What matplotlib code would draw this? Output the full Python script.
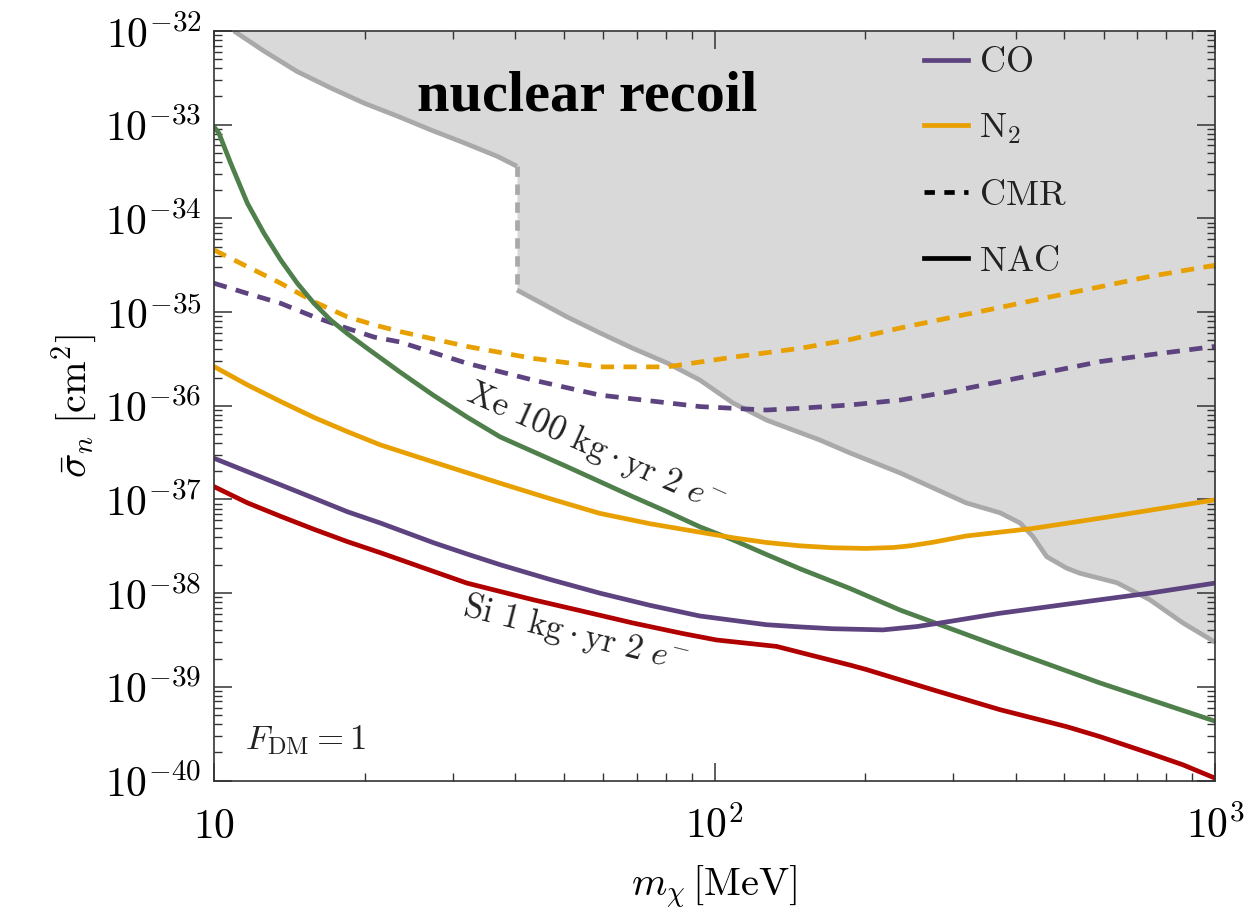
import matplotlib
matplotlib.use('Agg')
import matplotlib.pyplot as plt
from matplotlib.ticker import FixedLocator, FixedFormatter, LogLocator, NullFormatter
from matplotlib.lines import Line2D

plt.rcParams['mathtext.fontset'] = 'cm'
plt.rcParams['font.family'] = ['DejaVu Serif']

# ---------------- data (m_chi in MeV, sigma_n in cm^2) ----------------
m_xe = [10.0, 10.23, 10.8, 11.66, 12.59, 13.59, 14.67, 15.84, 17.11, 18.46, 20.24, 23.5, 27.4, 32.0, 37.3,
        43.4, 50.7, 59.0, 68.7, 80.4, 93.5, 108.9, 127.3, 148.2, 186.6, 234.8, 372, 589, 1000]
s_xe = [9.5e-34, 8.1e-34, 3.87e-34, 1.45e-34, 6.9e-35, 3.6e-35, 2.03e-35, 1.24e-35, 8.2e-36, 5.9e-36,
        4.1e-36, 2.3e-36, 1.3e-36, 7.6e-37, 4.65e-37, 3.24e-37, 2.24e-37, 1.55e-37, 1.07e-37, 7.4e-38,
        5.1e-38, 3.7e-38, 2.57e-38, 1.82e-38, 1.12e-38, 6.6e-39, 2.67e-39, 1.10e-39, 4.3e-40]

m_n2_nac = [10, 11.66, 13.59, 15.84, 18.46, 21.5, 27.5, 37.3, 46.9, 59, 74.4, 93.5, 108.9, 127, 148, 172,
            201, 228, 246, 274, 318, 432, 589, 1000]
s_n2_nac = [2.62e-36, 1.67e-36, 1.11e-36, 7.5e-37, 5.3e-37, 3.82e-37, 2.5e-37, 1.49e-37, 1.02e-37,
            7.1e-38, 5.5e-38, 4.47e-38, 3.9e-38, 3.47e-38, 3.2e-38, 3.05e-38, 3.0e-38, 3.07e-38, 3.2e-38,
            3.5e-38, 4.07e-38, 4.9e-38, 6.3e-38, 9.9e-38]

m_co_nac = [10, 11.66, 13.59, 15.84, 18.46, 21.5, 27.5, 32, 37.3, 46.9, 59, 74.4, 93.5, 127, 148, 172, 217,
            254, 294, 372, 468, 589, 741, 1000]
s_co_nac = [2.75e-37, 1.98e-37, 1.43e-37, 1.03e-37, 7.4e-38, 5.6e-38, 3.44e-38, 2.62e-38, 2.01e-38,
            1.40e-38, 1.0e-38, 7.4e-39, 5.7e-39, 4.6e-39, 4.36e-39, 4.17e-39, 4.05e-39, 4.4e-39, 4.97e-39,
            6.1e-39, 7.2e-39, 8.5e-39, 1.0e-38, 1.28e-38]

m_si = [10, 11.66, 13.59, 15.84, 18.46, 21.5, 27.5, 32, 43.4, 54.6, 68.7, 86.5, 101, 133, 160, 187, 201,
        273, 372, 505, 589, 741, 863, 1000]
s_si = [1.37e-37, 9.2e-38, 6.6e-38, 4.8e-38, 3.55e-38, 2.7e-38, 1.70e-38, 1.28e-38, 8.5e-39, 6.4e-39,
        4.8e-39, 3.7e-39, 3.16e-39, 2.7e-39, 2.1e-39, 1.70e-39, 1.53e-39, 9.3e-40, 5.7e-40, 3.76e-40,
        2.94e-40, 1.95e-40, 1.47e-40, 1.06e-40]

m_n2_cmr = [10, 11.66, 13.59, 15.84, 18.46, 20.9, 23.5, 32, 43.4, 59, 80.4, 108.9, 148, 187, 235, 295,
            372, 468, 589, 741, 1000]
s_n2_cmr = [4.6e-35, 3.05e-35, 2.03e-35, 1.29e-35, 8.9e-36, 7.3e-36, 6.2e-36, 4.3e-36, 3.2e-36, 2.6e-36,
            2.6e-36, 3.3e-36, 4.1e-36, 5.1e-36, 6.76e-36, 8.7e-36, 1.12e-35, 1.45e-35, 1.86e-35, 2.4e-35,
            3.16e-35]

m_co_cmr = [10, 11.66, 13.59, 15.84, 18.46, 20.9, 23.5, 32, 43.4, 59, 93.5, 127, 148, 187, 235, 295,
            372, 468, 589, 741, 1000]
s_co_cmr = [2.03e-35, 1.58e-35, 1.24e-35, 8.9e-36, 6.7e-36, 5.4e-36, 4.8e-36, 2.84e-36, 1.88e-36,
            1.30e-36, 9.8e-37, 9.0e-37, 9.4e-37, 1.02e-36, 1.15e-36, 1.41e-36, 1.81e-36, 2.31e-36,
            2.96e-36, 3.5e-36, 4.3e-36]

# nuclear recoil bound: upper branch, step at 40.3 MeV, lower branch
m_nr_hi = [10.96, 12.59, 14.65, 17.13, 19.94, 23.2, 27.1, 31.6, 36.8, 40.3]
s_nr_hi = [1.0e-32, 6.1e-33, 3.7e-33, 2.46e-33, 1.70e-33, 1.24e-33, 8.8e-34, 6.4e-34, 4.6e-34, 3.6e-34]
m_nr_lo = [40.3, 50.7, 59.0, 68.7, 80.4, 93.5, 108.9, 127.3, 162.5, 186.6, 234.8, 318, 372, 408, 433,
           461, 505, 537, 637, 741, 863, 1000]
s_nr_lo = [1.72e-35, 8.9e-36, 6.0e-36, 4.1e-36, 2.86e-36, 1.88e-36, 1.07e-36, 7.0e-37, 4.3e-37, 3.13e-37,
           1.92e-37, 9.2e-38, 7.2e-38, 5.6e-38, 4.0e-38, 2.45e-38, 1.85e-38, 1.63e-38, 1.29e-38, 8.5e-39,
           4.8e-39, 3.0e-39]

y_major = [1e-32, 1e-33, 1e-34, 1e-35, 1e-36, 1e-37, 1e-38, 1e-39, 1e-40]
y_labels = [r'$10^{-32}$', r'$10^{-33}$', r'$10^{-34}$', r'$10^{-35}$', r'$10^{-36}$',
            r'$10^{-37}$', r'$10^{-38}$', r'$10^{-39}$', r'$10^{-40}$']
x_major = [10, 100, 1000]
x_labels = [r'$10$', r'$10^{2}$', r'$10^{3}$']

# ---------------- style ----------------
C_PURPLE = '#5d437f'
C_ORANGE = '#e8a000'
C_GREEN = '#4f7f4b'
C_RED = '#b00000'
C_GRAY_LINE = '#a9a9a9'
C_GRAY_FILL = '#d9d9d9'
LW = 3.4
DASH = (2.8, 2.0)

fig = plt.figure(figsize=(12.46, 9.23), dpi=100)
ax = fig.add_axes([214 / 1246, 1 - 780.5 / 923, (1215 - 214) / 1246, (780.5 - 31) / 923])
ax.set_xscale('log')
ax.set_yscale('log')
ax.set_xlim(10, 1000)
ax.set_ylim(1e-40, 1e-32)

# excluded region
m_nr = m_nr_hi + m_nr_lo
s_nr = s_nr_hi + s_nr_lo
ax.fill_between(m_nr, s_nr, 1e-32, color=C_GRAY_FILL, lw=0, zorder=1)
ax.plot(m_nr_hi, s_nr_hi, color=C_GRAY_LINE, lw=LW, zorder=2, solid_capstyle='butt')
ax.plot(m_nr_lo, s_nr_lo, color=C_GRAY_LINE, lw=LW, zorder=2, solid_capstyle='butt')
ax.plot([m_nr_hi[-1], m_nr_lo[0]], [s_nr_hi[-1], s_nr_lo[0]], color=C_GRAY_LINE, lw=LW,
        dashes=(2.2, 1.6), zorder=2)

# curves
ax.plot(m_n2_cmr, s_n2_cmr, color=C_ORANGE, lw=LW, dashes=DASH, zorder=3)
ax.plot(m_co_cmr, s_co_cmr, color=C_PURPLE, lw=LW, dashes=DASH, zorder=3)
ax.plot(m_xe, s_xe, color=C_GREEN, lw=LW, zorder=3)
ax.plot(m_n2_nac, s_n2_nac, color=C_ORANGE, lw=LW, zorder=3)
ax.plot(m_co_nac, s_co_nac, color=C_PURPLE, lw=LW, zorder=3)
ax.plot(m_si, s_si, color=C_RED, lw=LW, zorder=3)

# ticks
ax.yaxis.set_major_locator(FixedLocator(y_major))
ax.yaxis.set_major_formatter(FixedFormatter(y_labels))
ax.yaxis.set_minor_locator(LogLocator(base=10, subs=range(2, 10), numticks=100))
ax.yaxis.set_minor_formatter(NullFormatter())
ax.xaxis.set_major_locator(FixedLocator(x_major))
ax.xaxis.set_major_formatter(FixedFormatter(x_labels))
ax.xaxis.set_minor_locator(LogLocator(base=10, subs=range(2, 10), numticks=100))
ax.xaxis.set_minor_formatter(NullFormatter())
ax.tick_params(which='both', direction='in', top=True, right=True, color='#333333')
ax.tick_params(which='major', length=13, width=1.1, labelsize=30, pad=9)
ax.tick_params(which='minor', length=5.5, width=1.0)
ax.tick_params(axis='x', which='major', pad=18)
for sp in ax.spines.values():
    sp.set_color('#333333')
    sp.set_linewidth(1.2)
    sp.set_zorder(5)

ax.set_xlabel(r'$m_\chi\,[\mathrm{MeV}]$', fontsize=29, labelpad=12)
ax.set_ylabel(r'$\bar{\sigma}_n\;[\mathrm{cm}^2]$', fontsize=29, labelpad=4)

# annotations
ax.text(0.3726, 0.912, 'nuclear recoil', transform=ax.transAxes, ha='center', va='center',
        fontsize=42, fontweight='bold', family=['Liberation Serif'], zorder=6)
ax.text(0.381, 0.444, r'$\mathrm{Xe}\ 100\ \mathrm{kg}\cdot\mathrm{yr}\ 2\ e^{-}$', transform=ax.transAxes,
        ha='center', va='center', rotation=-24, rotation_mode='anchor', fontsize=25, color='#222222', zorder=6)
ax.text(0.361, 0.196, r'$\mathrm{Si}\ 1\ \mathrm{kg}\cdot\mathrm{yr}\ 2\ e^{-}$', transform=ax.transAxes,
        ha='center', va='center', rotation=-14, rotation_mode='anchor', fontsize=25, color='#222222', zorder=6)
ax.text(0.091, 0.054, r'$F_{\mathrm{DM}} = 1$', transform=ax.transAxes, ha='center', va='center',
        fontsize=25, color='#222222', zorder=6)

# legend
handles = [Line2D([], [], color=C_PURPLE, lw=LW),
           Line2D([], [], color=C_ORANGE, lw=LW),
           Line2D([], [], color='black', lw=LW, dashes=(2.2, 2.0)),
           Line2D([], [], color='black', lw=LW)]
labels = [r'$\mathrm{CO}$', r'$\mathrm{N}_2$', r'$\mathrm{CMR}$', r'$\mathrm{NAC}$']
leg = ax.legend(handles, labels, loc='upper left', bbox_to_anchor=(0.709, 0.981), frameon=False,
                fontsize=26, handlelength=1.22, handletextpad=0.3, labelspacing=0.88, borderpad=0,
                borderaxespad=0)
for t in leg.get_texts():
    t.set_color('#222222')

fig.savefig('out.png', dpi=100)
